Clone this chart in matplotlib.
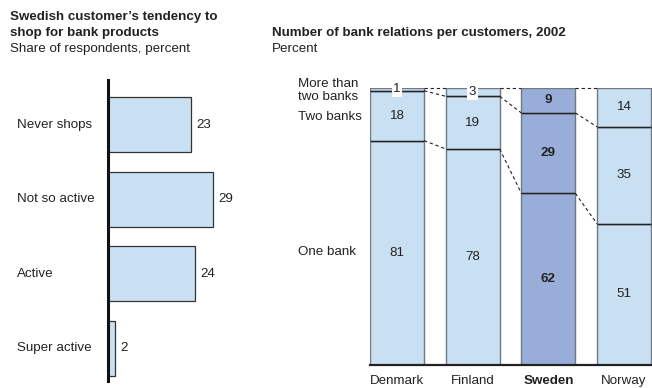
import matplotlib.pyplot as plt
import matplotlib.transforms as mtransforms

plt.rcParams['font.family'] = ['Liberation Sans', 'DejaVu Sans']

# Left panel: tendency to shop for bank products
shop_labels = ["Never shops", "Not so active", "Active", "Super active"]
shop_values = [23, 29, 24, 2]

# Right panel: number of bank relations per customer
countries = ["Denmark", "Finland", "Sweden", "Norway"]
one_bank = [81, 78, 62, 51]
two_banks = [18, 19, 29, 35]
more_banks = [1, 3, 9, 14]
segment_names = ["One bank", "Two banks", "More than\ntwo banks"]

W, H = 652, 388
LIGHT = "#c9dff2"
DARK = "#98aed8"
TXT = "#222222"
FS = 9.6

fig = plt.figure(figsize=(W / 100, H / 100), dpi=100)


def fx(px):
    return px / W


def fy(py):
    return 1 - py / H


# titles
fig.text(fx(10), fy(20), "Swedish customer\u2019s tendency to", fontsize=FS,
         fontweight="bold", color=TXT, va="baseline")
fig.text(fx(10), fy(36), "shop for bank products", fontsize=FS,
         fontweight="bold", color=TXT, va="baseline")
fig.text(fx(10), fy(52), "Share of respondents, percent", fontsize=FS,
         color=TXT, va="baseline")
fig.text(fx(272), fy(36), "Number of bank relations per customers, 2002",
         fontsize=FS, fontweight="bold", color=TXT, va="baseline")
fig.text(fx(272), fy(52), "Percent", fontsize=FS, color=TXT, va="baseline")

# ---- left horizontal bars ----
px_per_unit = 3.62
ax1 = fig.add_axes([fx(108), fy(381), fx(40 * px_per_unit), (381 - 80) / H])
ypos = list(range(len(shop_values)))
ax1.barh(ypos, shop_values, height=0.74, color=LIGHT, edgecolor="#333333",
         linewidth=0.9)
ax1.set_xlim(0, 40)
ax1.set_ylim(3.44, -0.6)
for s in ["top", "right", "bottom"]:
    ax1.spines[s].set_visible(False)
ax1.spines["left"].set_linewidth(2.2)
ax1.spines["left"].set_color("#111111")
ax1.set_xticks([])
ax1.set_yticks([])
label_tr = mtransforms.blended_transform_factory(fig.transFigure, ax1.transData)
for y, v, lab in zip(ypos, shop_values, shop_labels):
    ax1.text(v + 1.4, y, str(v), va="center", ha="left", fontsize=FS,
             color=TXT)
    ax1.text(fx(17), y, lab, transform=label_tr, va="center", ha="left",
             fontsize=FS, color=TXT)

# ---- right stacked bars ----
bw = 0.714
ax2 = fig.add_axes([fx(370), fy(365), fx(282), 277 / H])
xs = list(range(len(countries)))
cols = [DARK if c == "Sweden" else LIGHT for c in countries]
bottom2 = [a + b for a, b in zip(one_bank, two_banks)]

ax2.bar(xs, one_bank, width=bw, color=cols, edgecolor="#6f7a86", linewidth=1.0)
ax2.bar(xs, two_banks, width=bw, bottom=one_bank, color=cols,
        edgecolor="#6f7a86", linewidth=1.0)
ax2.bar(xs, more_banks, width=bw, bottom=bottom2, color=cols,
        edgecolor="#6f7a86", linewidth=1.0)
# darker dividers between segments
for x, a, b in zip(xs, one_bank, bottom2):
    ax2.hlines([a, b], x - bw / 2, x + bw / 2, color="#222222", lw=1.0,
               zorder=3)

# dashed connectors between neighbouring bars
for i in range(len(xs) - 1):
    levels_l = [one_bank[i], bottom2[i], 100]
    levels_r = [one_bank[i + 1], bottom2[i + 1], 100]
    for yl, yr in zip(levels_l, levels_r):
        ax2.plot([xs[i] + bw / 2, xs[i + 1] - bw / 2], [yl, yr],
                 ls=(0, (3, 2.5)), color="#222222", lw=0.8, clip_on=False)

# segment value labels
for x, c, a, b, m in zip(xs, countries, one_bank, two_banks, more_banks):
    weight = "bold" if c == "Sweden" else "normal"
    ax2.text(x, a / 2, str(a), ha="center", va="center", fontsize=FS,
             color=TXT, fontweight=weight)
    ax2.text(x, a + b / 2, str(b), ha="center", va="center", fontsize=FS,
             color=TXT, fontweight=weight)
    top_mid = a + b + m / 2
    if m < 5:
        ax2.text(x, top_mid, str(m), ha="center", va="center", fontsize=FS,
                 color=TXT, fontweight=weight, zorder=5,
                 bbox=dict(facecolor="white", edgecolor="none", pad=1.2))
    else:
        ax2.text(x, top_mid, str(m), ha="center", va="center", fontsize=FS,
                 color=TXT, fontweight=weight)

ax2.set_xlim(-0.357, 3.37)
ax2.set_ylim(0, 100)
for s in ["top", "right", "left"]:
    ax2.spines[s].set_visible(False)
ax2.spines["bottom"].set_linewidth(1.6)
ax2.spines["bottom"].set_color("#222222")
ax2.set_yticks([])
ax2.set_xticks(xs)
ax2.set_xticklabels(countries, fontsize=FS, color=TXT)
for lab in ax2.get_xticklabels():
    if lab.get_text() == "Sweden":
        lab.set_fontweight("bold")
ax2.tick_params(axis="x", length=0, pad=7)

# row names on the left of the stacked bars
fig.text(fx(298), fy(252), segment_names[0], fontsize=FS, color=TXT,
         va="center", ha="left")
fig.text(fx(298), fy(117), segment_names[1], fontsize=FS, color=TXT,
         va="center", ha="left")
fig.text(fx(298), fy(90.5), segment_names[2], fontsize=FS, color=TXT,
         va="center", ha="left", linespacing=1.05)

fig.savefig("out.png", dpi=100)
